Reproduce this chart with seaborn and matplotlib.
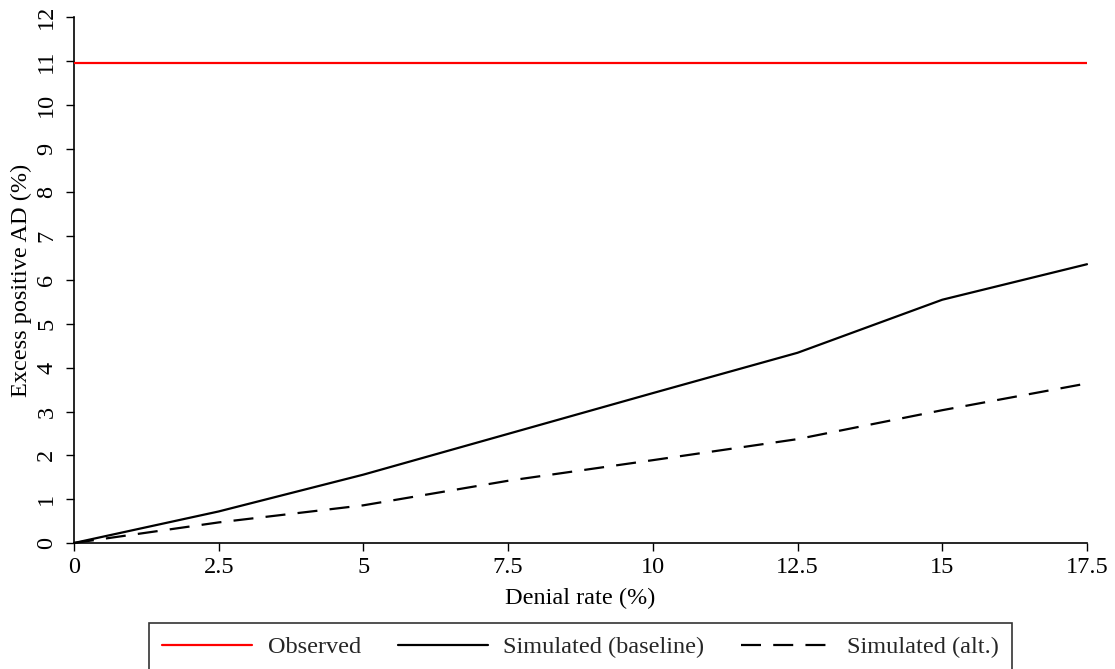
import matplotlib
matplotlib.use("Agg")
import matplotlib.pyplot as plt
import seaborn as sns
import pandas as pd

# Denial rate grid (%) and excess positive AD (%) for each series
denial_rate = [0, 2.5, 5, 7.5, 10, 12.5, 15, 17.5]
sim_baseline = [0.0, 0.72, 1.56, 2.49, 3.42, 4.34, 5.55, 6.36]
sim_alt = [0.0, 0.47, 0.86, 1.42, 1.89, 2.37, 3.03, 3.64]
observed = 10.96

x_ticks = [0, 2.5, 5, 7.5, 10, 12.5, 15, 17.5]
x_ticklabels = ["0", "2.5", "5", "7.5", "10", "12.5", "15", "17.5"]
y_ticks = list(range(0, 13))

sns.set_theme(style="ticks")
plt.rcParams["font.family"] = ["Liberation Serif", "DejaVu Serif"]
plt.rcParams["font.size"] = 17.5

fig = plt.figure(figsize=(11.15, 6.69), dpi=100)
ax = fig.add_axes([74 / 1115, 1 - 543 / 669, (1087 - 74) / 1115, (543 - 17) / 669])

df = pd.DataFrame({"rate": denial_rate, "base": sim_baseline, "alt": sim_alt})

ax.axhline(observed, color="#ff0000", lw=1.6, label="Observed", zorder=3)
sns.lineplot(data=df, x="rate", y="base", ax=ax, color="black", lw=1.6,
             label="Simulated (baseline)", clip_on=False)
sns.lineplot(data=df, x="rate", y="alt", ax=ax, color="black", lw=1.6,
             label="Simulated (alt.)", clip_on=False)
ax.lines[-1].set_dashes((9.0, 5.5))

ax.set_xlim(0, 17.5)
ax.set_ylim(0, 12)
ax.set_xticks(x_ticks)
ax.set_xticklabels(x_ticklabels)
ax.set_yticks(y_ticks)
ax.set_yticklabels([str(v) for v in y_ticks], rotation=90, va="center")
ax.tick_params(axis="both", labelsize=17.5, length=6, width=1.0, color="black",
               labelcolor="black", pad=4)
ax.tick_params(axis="y", pad=6)

for side in ("top", "right"):
    ax.spines[side].set_visible(False)
for side in ("left", "bottom"):
    ax.spines[side].set_color("black")
    ax.spines[side].set_linewidth(1.2)

ax.set_xlabel("Denial rate (%)", fontsize=17.5, color="black", labelpad=7)
ax.set_ylabel("Excess positive AD (%)", fontsize=17.5, color="black", labelpad=3)

leg = ax.legend(loc="center", bbox_to_anchor=(580.5 / 1115, 1 - 647 / 669),
                bbox_transform=fig.transFigure, ncol=3, frameon=True,
                fancybox=False, edgecolor="black", fontsize=17.5,
                handlelength=3.7, handletextpad=0.65, columnspacing=1.5,
                borderpad=0.55, borderaxespad=0)
leg.get_frame().set_linewidth(1.2)

fig.savefig("out.png", dpi=100, facecolor="white")
